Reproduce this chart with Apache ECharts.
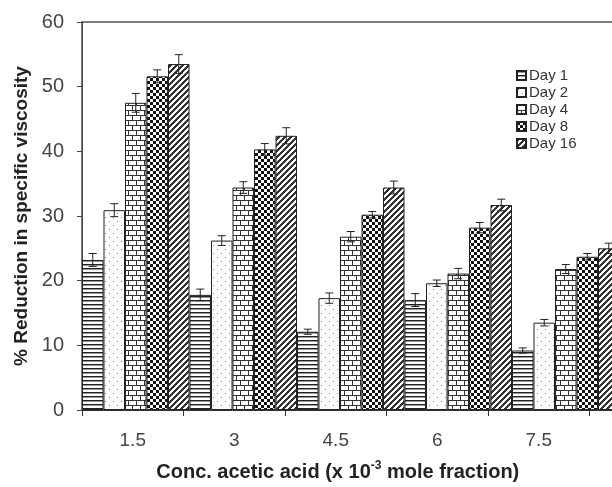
<!DOCTYPE html>
<html>
<head>
<meta charset="utf-8">
<script src="https://cdn.jsdelivr.net/npm/echarts@6/dist/echarts.min.js"></script>
<style>
  html, body { margin: 0; padding: 0; background: #fff; }
  #chart { width: 612px; height: 487px; }
</style>
</head>
<body>
<div id="chart"></div>
<script>
  // data
  var categories = ['1.5', '3', '4.5', '6', '7.5'];
  var seriesNames = ['Day 1', 'Day 2', 'Day 4', 'Day 8', 'Day 16'];
  var day1 = [23.2, 17.8, 12.1, 17.0, 9.2];
  var day2 = [30.9, 26.2, 17.3, 19.6, 13.5];
  var day4 = [47.5, 34.4, 26.8, 21.1, 21.8];
  var day8 = [51.6, 40.3, 30.2, 28.2, 23.7];
  var day16 = [53.5, 42.4, 34.4, 31.7, 25.0];
  var err1 = [1.0, 0.9, 0.4, 1.0, 0.4];
  var err2 = [1.0, 0.75, 0.8, 0.5, 0.5];
  var err4 = [1.45, 0.9, 0.8, 0.8, 0.7];
  var err8 = [1.0, 0.9, 0.5, 0.8, 0.5];
  var err16 = [1.45, 1.25, 1.0, 0.9, 0.8];
  var yTicks = [0, 10, 20, 30, 40, 50, 60];

  var values = [day1, day2, day4, day8, day16];
  var errors = [err1, err2, err4, err8, err16];

  // fill patterns, like the excel hatchings
  function makePattern(kind) {
    var c = document.createElement('canvas');
    var w = 6, h = 6;
    if (kind === 'lines') { w = 4; h = 4; }
    if (kind === 'dots') { w = 8; h = 8; }
    if (kind === 'brick') { w = 8; h = 10; }
    c.width = w; c.height = h;
    var ctx = c.getContext('2d');
    ctx.fillStyle = '#fff';
    ctx.fillRect(0, 0, w, h);
    ctx.fillStyle = '#333';
    if (kind === 'lines') {
      ctx.fillStyle = '#222';
      ctx.fillRect(0, 0, w, 1);
      ctx.fillStyle = '#999';
      ctx.fillRect(0, 1, w, 1);
    } else if (kind === 'dots') {
      ctx.fillStyle = '#888';
      ctx.fillRect(1, 1, 1, 1);
      ctx.fillRect(5, 5, 1, 1);
    } else if (kind === 'brick') {
      ctx.fillRect(0, 0, w, 1);
      ctx.fillRect(0, 5, w, 1);
      ctx.fillRect(0, 1, 1, 4);
      ctx.fillRect(4, 6, 1, 4);
    } else if (kind === 'checker') {
      ctx.fillStyle = '#111';
      ctx.fillRect(0, 0, 3, 3);
      ctx.fillRect(3, 3, 3, 3);
    } else if (kind === 'diag') {
      for (var y = 0; y < h; y++) {
        for (var x = 0; x < w; x++) {
          if ((x + y) % 6 < 3) ctx.fillRect(x, y, 1, 1);
        }
      }
    }
    return { image: c, repeat: 'repeat' };
  }
  var fills = [makePattern('lines'), makePattern('dots'), makePattern('brick'),
               makePattern('checker'), makePattern('diag')];

  var chart = echarts.init(document.getElementById('chart'));
  var font = 'Liberation Sans, Arial, sans-serif';
  var xMin = 0.75, xMax = 0.75 + 537.5 / (101.5 / 1.5);

  var series = [];
  values.forEach(function (vals, i) {
    series.push({
      name: seriesNames[i],
      type: 'bar',
      xAxisIndex: 2,
      yAxisIndex: 0,
      barGap: '0%',
      barCategoryGap: '0%',
      itemStyle: { color: fills[i], borderColor: '#222', borderWidth: 1 },
      data: vals
    });
  });
  values.forEach(function (vals, i) {
    series.push({
      type: 'custom',
      xAxisIndex: 2,
      yAxisIndex: 0,
      z: 5,
      silent: true,
      data: vals.map(function (v, j) { return [j, v, errors[i][j]]; }),
      renderItem: function (params, api) {
        var c = api.value(0), v = api.value(1), e = api.value(2);
        var bw = api.size([1, 0])[0];
        var x = api.coord([c, v])[0] + (i - 2) * bw / 5;
        var top = api.coord([c, v + e])[1];
        var bot = api.coord([c, v - e])[1];
        var st = { stroke: '#222', lineWidth: 1 };
        return {
          type: 'group',
          children: [
            { type: 'line', shape: { x1: x, y1: top, x2: x, y2: bot }, style: st },
            { type: 'line', shape: { x1: x - 4, y1: top, x2: x + 4, y2: top }, style: st },
            { type: 'line', shape: { x1: x - 4, y1: bot, x2: x + 4, y2: bot }, style: st }
          ]
        };
      }
    });
  });

  var option = {
    animation: false,
    grid: {
      left: 82, right: -7.5, top: 22, bottom: 77,
      outerBoundsMode: 'none',
      show: true, borderColor: '#555', borderWidth: 1.5
    },
    legend: {
      orient: 'vertical',
      left: 511, top: 62,
      itemWidth: 9, itemHeight: 9, itemGap: 0,
      icon: 'rect',
      data: seriesNames,
      textStyle: { fontFamily: font, fontSize: 15, color: '#333', lineHeight: 17, padding: [0, 0, 0, -2] }
    },
    xAxis: [
      {
        // ticks at the group borders
        type: 'value', position: 'bottom',
        min: xMin, max: xMax, interval: 1.5,
        axisLine: { lineStyle: { color: '#333', width: 1 } },
        axisTick: { length: 6, lineStyle: { color: '#333' } },
        axisLabel: { show: false },
        splitLine: { show: false },
        name: 'Conc. acetic acid (x 10{sup|-3} mole fraction)',
        nameLocation: 'middle', nameGap: 50,
        nameTextStyle: {
          fontFamily: font, fontSize: 20, fontWeight: 'bold', color: '#222',
          lineHeight: 24, padding: [0, 26, 0, 0],
          rich: { sup: { fontFamily: font, fontSize: 12, fontWeight: 'bold', color: '#222', verticalAlign: 'top', lineHeight: 13 } }
        }
      },
      {
        // labels between the ticks
        type: 'value', position: 'bottom',
        min: xMin, max: xMax, interval: 0.75,
        axisLine: { show: false }, axisTick: { show: false }, splitLine: { show: false },
        axisLabel: {
          margin: 21, fontFamily: font, fontSize: 19, color: '#444',
          formatter: function (v) {
            var s = String(Math.round(v * 100) / 100);
            return categories.indexOf(s) >= 0 ? s : '';
          }
        }
      },
      {
        // bars
        type: 'category', position: 'top', show: false,
        data: categories
      }
    ],
    yAxis: {
      type: 'value', min: yTicks[0], max: yTicks[yTicks.length - 1], interval: 10,
      axisLine: { show: true, lineStyle: { color: '#444', width: 1 } },
      axisTick: { show: true, length: 5, lineStyle: { color: '#444' } },
      splitLine: { show: false },
      axisLabel: { margin: 18, fontFamily: font, fontSize: 20, color: '#444' },
      name: '% Reduction in specific viscosity',
      nameLocation: 'middle', nameGap: 49,
      nameTextStyle: { fontFamily: font, fontSize: 19, fontWeight: 'bold', color: '#222' }
    },
    series: series
  };
  chart.setOption(option);
</script>
</body>
</html>
